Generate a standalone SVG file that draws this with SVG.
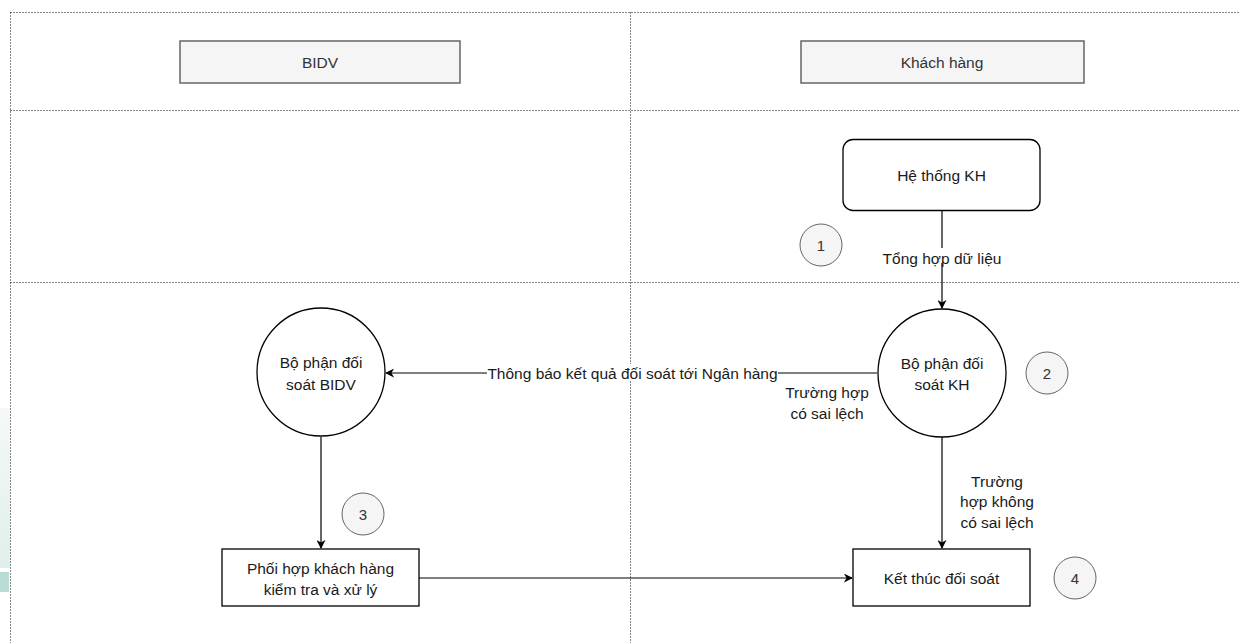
<svg xmlns="http://www.w3.org/2000/svg" width="1240" height="643" viewBox="0 0 1240 643">
<style>
.t{font-family:"Liberation Sans",Arial,sans-serif;font-size:15.5px;fill:#1a1a1a;text-anchor:middle;dominant-baseline:central}
.h{fill:#333}
.num{font-size:15px;fill:#333}
.dot{stroke:#111;stroke-width:1.1;stroke-dasharray:1 2;fill:none}
.hdr{fill:#f5f5f5;stroke:#666;stroke-width:1.5}
.nc{fill:#f5f5f5;stroke:#666;stroke-width:1}
.nd{fill:#fff;stroke:#000;stroke-width:1.3}
.e{stroke:#000;stroke-width:1.2;fill:none}
</style>
<defs>
<marker id="arr" viewBox="0 0 10 10" refX="9" refY="5" markerWidth="9" markerHeight="9" markerUnits="userSpaceOnUse" orient="auto">
<path d="M0,0 L10,5 L0,10 L3,5 Z" fill="#000"/>
</marker>
<linearGradient id="wm" x1="0" y1="0" x2="0" y2="1">
<stop offset="0" stop-color="#f4f9f8"/>
<stop offset="1" stop-color="#e0efec"/>
</linearGradient>
</defs>
<rect width="1240" height="643" fill="#fff"/>
<g id="watermark">
<rect x="0" y="408" width="10" height="160" fill="url(#wm)"/>
<rect x="0" y="572" width="9" height="20" fill="#b9ddd6"/>
</g>
<g id="lanes">
<path class="dot" d="M10.5,12.5 H1240 M10.5,110.5 H1240 M10.5,282.5 H1240 M10.5,12.5 V643 M630.5,12.5 V643"/>
</g>
<g id="hdr-bidv">
<rect class="hdr" x="180" y="41" width="280" height="42"/>
<text class="t h" x="320" y="62">BIDV</text>
</g>
<g id="hdr-kh">
<rect class="hdr" x="801" y="41" width="283" height="42"/>
<text class="t h" x="942" y="62">Khách hàng</text>
</g>
<g id="connectors">
<line class="e" x1="942" y1="210" x2="942" y2="308" marker-end="url(#arr)"/>
<line class="e" x1="877" y1="373" x2="386" y2="373" marker-end="url(#arr)"/>
<line class="e" x1="321" y1="437" x2="321" y2="548" marker-end="url(#arr)"/>
<line class="e" x1="942" y1="437" x2="942" y2="548" marker-end="url(#arr)"/>
<line class="e" x1="419" y1="578" x2="852" y2="578" marker-end="url(#arr)"/>
<rect x="874" y="248" width="136" height="15" fill="#fff"/>
<text class="t" x="942" y="258">Tổng hợp dữ liệu</text>
<rect x="487" y="364" width="291" height="17" fill="#fff"/>
<text class="t" x="632.5" y="373">Thông báo kết quả đối soát tới Ngân hàng</text>
<text class="t" x="827" y="392">Trường hợp</text>
<text class="t" x="827" y="413">có sai lệch</text>
<text class="t" x="997" y="481">Trường</text>
<text class="t" x="997" y="501">hợp không</text>
<text class="t" x="997" y="522">có sai lệch</text>
</g>
<g id="he-thong-kh">
<rect class="nd" x="843" y="139.5" width="197" height="71" rx="10"/>
<text class="t" x="941.5" y="175">Hệ thống KH</text>
</g>
<g id="bo-phan-kh">
<circle class="nd" cx="942" cy="373" r="64"/>
<text class="t" x="942" y="363">Bộ phận đối</text>
<text class="t" x="942" y="384">soát KH</text>
</g>
<g id="bo-phan-bidv">
<circle class="nd" cx="321" cy="372" r="64"/>
<text class="t" x="321" y="362">Bộ phận đối</text>
<text class="t" x="321" y="384">soát BIDV</text>
</g>
<g id="phoi-hop">
<rect class="nd" x="222" y="549" width="197" height="57"/>
<text class="t" x="320.5" y="568">Phối hợp khách hàng</text>
<text class="t" x="320.5" y="589">kiểm tra và xử lý</text>
</g>
<g id="ket-thuc">
<rect class="nd" x="853" y="549" width="177" height="57"/>
<text class="t" x="941.5" y="578">Kết thúc đối soát</text>
</g>
<g id="step1"><circle class="nc" cx="821" cy="245" r="21"/><text class="t num" x="821" y="245">1</text></g>
<g id="step2"><circle class="nc" cx="1047" cy="373" r="21"/><text class="t num" x="1047" y="373">2</text></g>
<g id="step3"><circle class="nc" cx="363" cy="514" r="21"/><text class="t num" x="363" y="514">3</text></g>
<g id="step4"><circle class="nc" cx="1075" cy="578" r="21"/><text class="t num" x="1075" y="578">4</text></g>
</svg>
